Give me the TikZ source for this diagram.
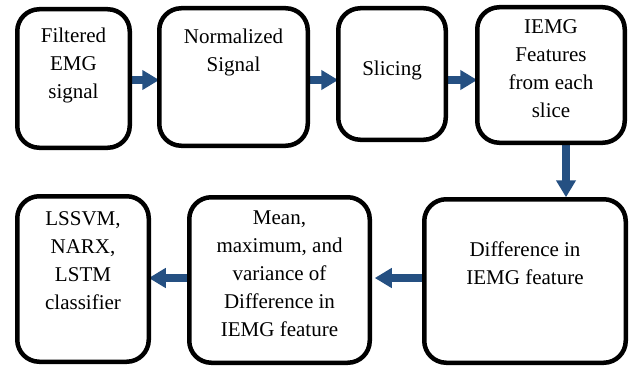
\documentclass[tikz,border=0pt]{standalone}
\usepackage{fontspec}
\setmainfont{Liberation Serif}
\usetikzlibrary{arrows.meta,backgrounds}
\definecolor{flowblue}{RGB}{37,80,130}
\tikzset{
  stagebox/.style={draw=black, line width=4.5pt, rounded corners=22pt,
    rectangle, inner sep=0pt, outer sep=0pt, fill=white},
  stagetext/.style={align=center, inner sep=0pt,
    font=\rmfamily\fontsize{21}{28}\selectfont},
  flowarrow/.style={draw=flowblue, line width=8pt,
    -{Triangle[length=17pt,width=19pt]}}
}
\begin{document}
\begin{tikzpicture}[x=1pt,y=-1pt]
  \useasboundingbox (0,0) rectangle (637,369);

  % top row of stages
  \node[stagebox, minimum width=112.5pt, minimum height=138.5pt] (b1) at (73.5,78.5) {};
  \node[stagebox, minimum width=148.5pt, minimum height=137.5pt] (b2) at (233.5,77) {};
  \node[stagebox, minimum width=107.5pt, minimum height=131.5pt] (b3) at (392,74) {};
  \node[stagebox, minimum width=147.5pt, minimum height=135.5pt] (b4) at (551,75) {};

  % bottom row of stages
  \node[stagebox, minimum width=131.5pt, minimum height=165.5pt] (b5) at (83,279) {};
  \node[stagebox, minimum width=180.5pt, minimum height=165.5pt] (b6) at (279.5,280) {};
  \node[stagebox, minimum width=201.5pt, minimum height=163.5pt] (b7) at (525,281) {};

  % stage labels
  \node[stagetext] (t1) at (73.5,65) {Filtered\\EMG\\signal};
  \node[stagetext] (t2) at (233.5,52) {Normalized\\Signal};
  \node[stagetext] (t3) at (392,70) {Slicing};
  \node[stagetext] (t4) at (551,69) {IEMG\\Features\\from each\\slice};
  \node[stagetext] (t5) at (83,261) {LSSVM,\\NARX,\\LSTM\\classifier};
  \node[stagetext] (t6) at (279.5,274) {Mean,\\maximum, and\\variance of\\Difference in\\IEMG feature};
  \node[stagetext] (t7) at (525,263) {Difference in\\IEMG feature};

  % white page and connectors, beneath the box outlines
  \begin{scope}[on background layer]
    \fill[white] (0,0) rectangle (637,369);
    \draw[flowarrow] (b1.east |- 0,80) -- (b2.west |- 0,80);
    \draw[flowarrow] (b2.east |- 0,80) -- (b3.west |- 0,80);
    \draw[flowarrow] (b3.east |- 0,80) -- (b4.west |- 0,80);
    \draw[flowarrow] ([xshift=15pt]b4.south) -- ([xshift=41pt,yshift=2pt]b7.north);
    \draw[flowarrow] (b7.west |- 0,278) -- ([xshift=5pt]b6.east |- 0,278);
    \draw[flowarrow] (b6.west |- 0,278) -- (b5.east |- 0,278);
  \end{scope}
\end{tikzpicture}
\end{document}
